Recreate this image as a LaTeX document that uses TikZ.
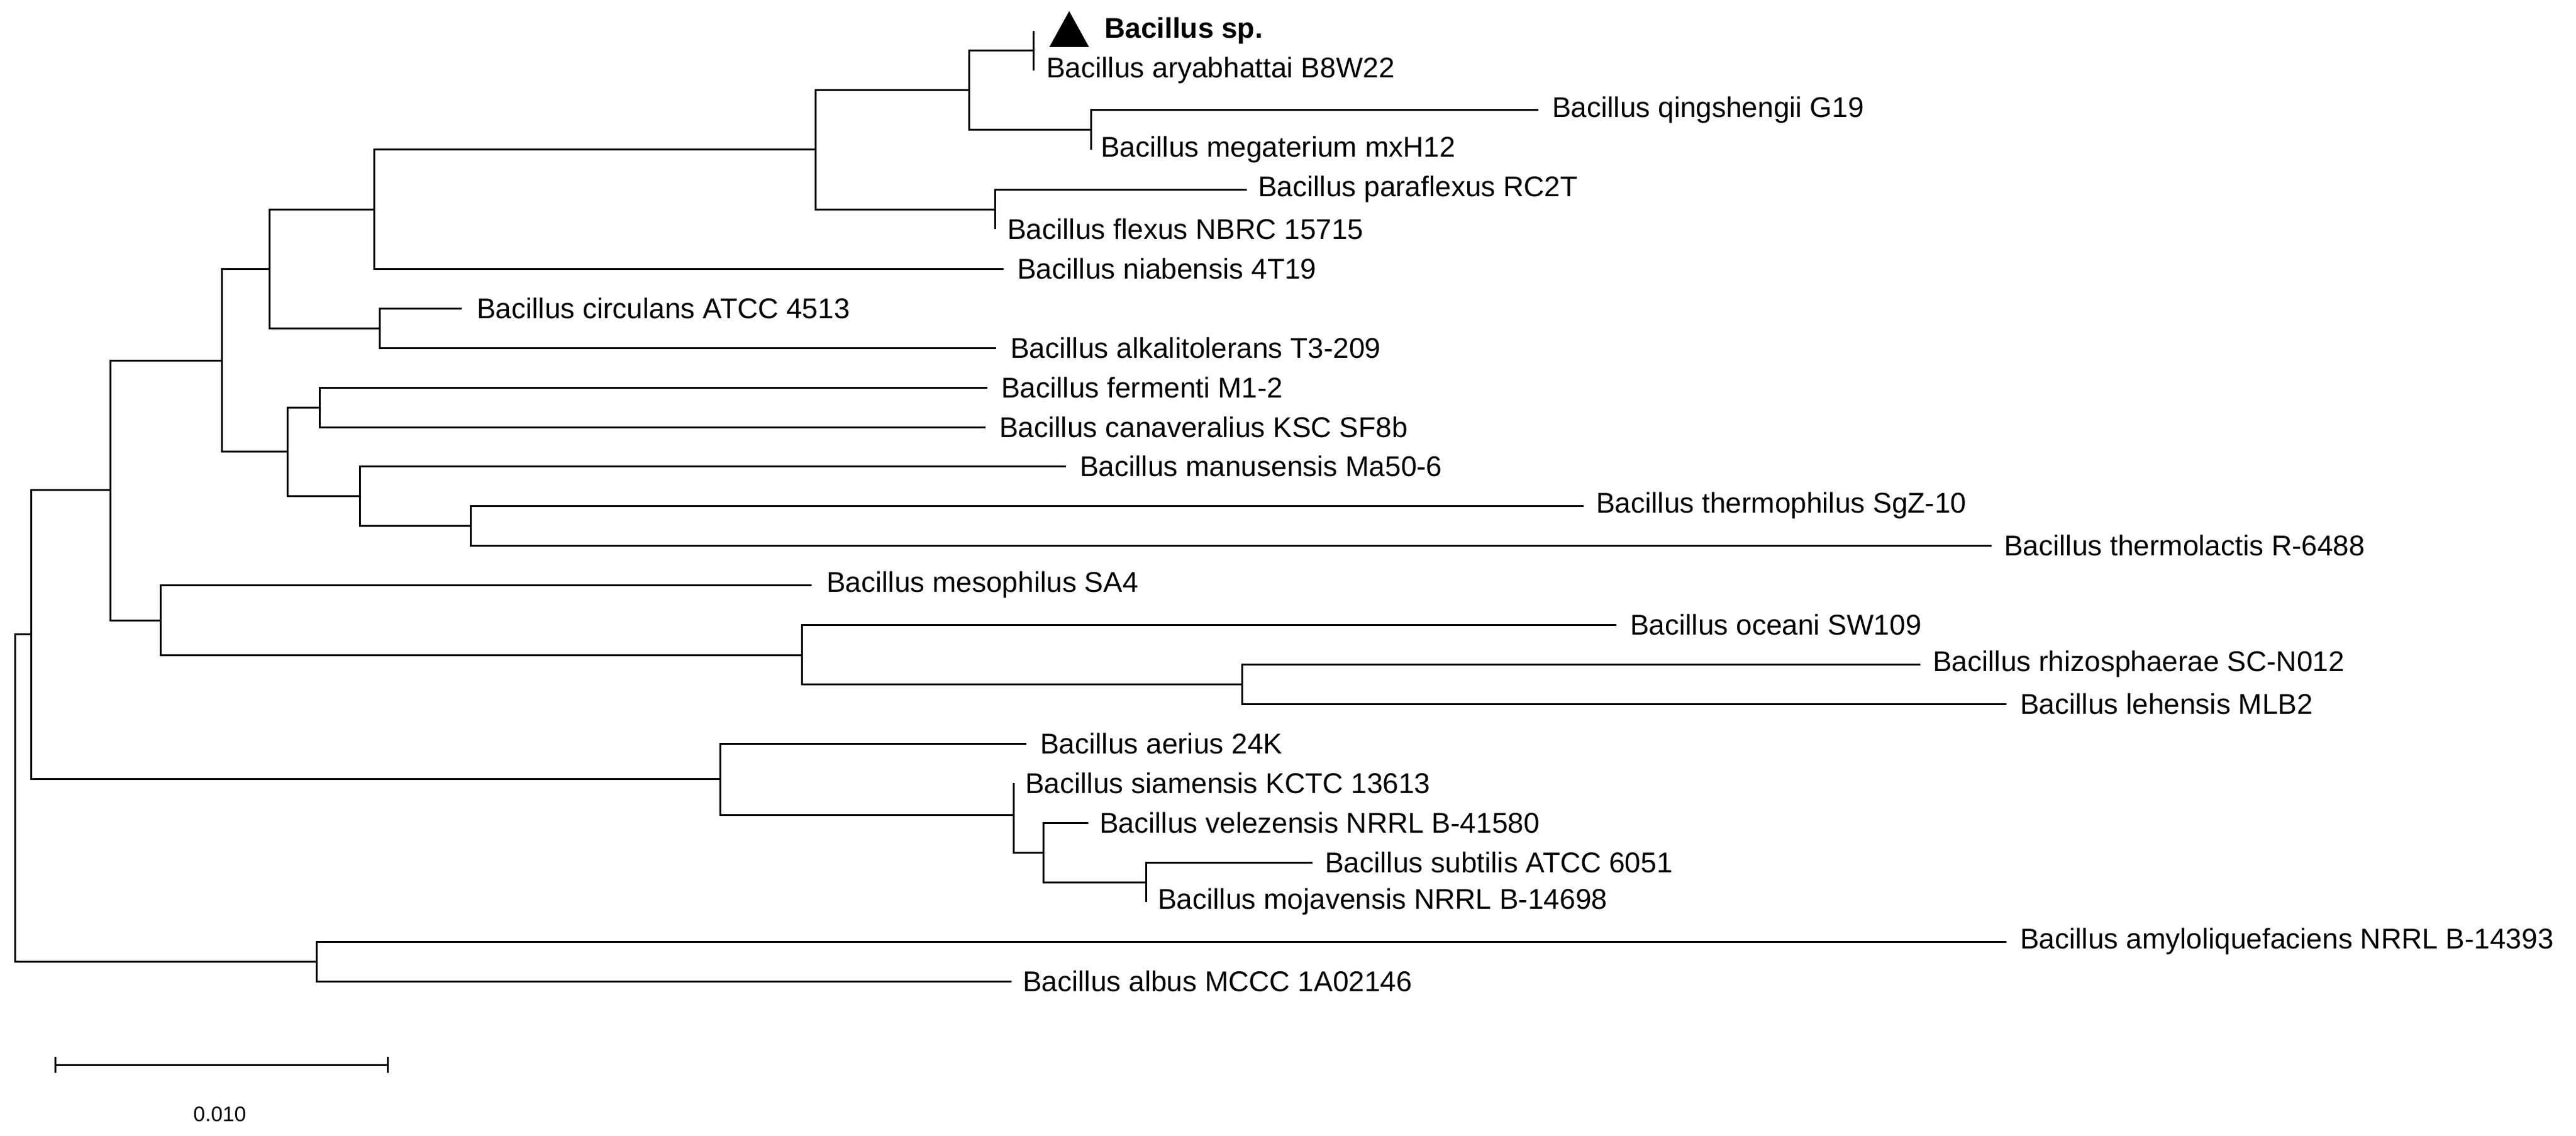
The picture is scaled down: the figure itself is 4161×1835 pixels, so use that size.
\documentclass[tikz,border=0pt]{standalone}
\usepackage{fontspec}
\setmainfont{Liberation Sans}
\begin{document}
\begin{tikzpicture}[x=1pt,y=-1pt,
  br/.style={line width=3pt},
  lab/.style={anchor=west,inner sep=0pt,font=\fontsize{46}{50}\selectfont},
  edge/.style={br,line cap=rect}]
\useasboundingbox (0,0) rectangle (4161,1835);
% internal nodes
\coordinate (root) at (24,1289);
\coordinate (r) at (50,1024);
\coordinate (n) at (178,791);
\coordinate (i) at (358,582);
\coordinate (g) at (435,434);
\coordinate (f) at (604,338);
\coordinate (d) at (1317,242);
\coordinate (b) at (1565,146);
\coordinate (a) at (1669,82);
\coordinate (c) at (1762,210);
\coordinate (e) at (1607,338);
\coordinate (h) at (613,530);
\coordinate (j) at (464,729);
\coordinate (k) at (516,658);
\coordinate (l) at (581,801);
\coordinate (m) at (760,849);
\coordinate (o) at (259,1002);
\coordinate (p) at (1295,1058);
\coordinate (q) at (2006,1105);
\coordinate (s) at (1163,1258);
\coordinate (u) at (1637,1316);
\coordinate (v) at (1685,1377);
\coordinate (w) at (1851,1425);
\coordinate (t) at (511,1553);
% leaf tips
\coordinate (tsp) at (1669,50);
\coordinate (tary) at (1669,114);
\coordinate (tqin) at (2485,178);
\coordinate (tmeg) at (1762,242);
\coordinate (tpar) at (2014,306);
\coordinate (tfle) at (1607,370);
\coordinate (tnia) at (1621,434);
\coordinate (tcir) at (746,498);
\coordinate (talk) at (1609,562);
\coordinate (tfer) at (1595,626);
\coordinate (tcan) at (1592,690);
\coordinate (tman) at (1722,753);
\coordinate (tthp) at (2558,817);
\coordinate (tthl) at (3217,881);
\coordinate (tmes) at (1311,945);
\coordinate (toce) at (2611,1009);
\coordinate (trhi) at (3102,1073);
\coordinate (tleh) at (3241,1137);
\coordinate (taer) at (1658,1201);
\coordinate (tsia) at (1637,1265);
\coordinate (tvel) at (1758,1329);
\coordinate (tsub) at (2120,1393);
\coordinate (tmoj) at (1851,1457);
\coordinate (tamy) at (3241,1521);
\coordinate (talb) at (1634,1585);
% labels
\fill (1695,76) -- (1759,76) -- (1727,18) -- cycle;
\node[lab,font=\fontsize{46}{50}\selectfont\bfseries] (Lsp) at (1784,50) {Bacillus sp.};
\node[lab] (Lary) at (1690,114) {Bacillus aryabhattai B8W22};
\node[lab] (Lqin) at (2507,178) {Bacillus qingshengii G19};
\node[lab] (Lmeg) at (1778,242) {Bacillus megaterium mxH12};
\node[lab] (Lpar) at (2032,306) {Bacillus paraflexus RC2T};
\node[lab] (Lfle) at (1627,370) {Bacillus flexus NBRC 15715};
\node[lab] (Lnia) at (1643,434) {Bacillus niabensis 4T19};
\node[lab] (Lcir) at (770,498) {Bacillus circulans ATCC 4513};
\node[lab] (Lalk) at (1632,562) {Bacillus alkalitolerans T3-209};
\node[lab] (Lfer) at (1617,626) {Bacillus fermenti M1-2};
\node[lab] (Lcan) at (1614,690) {Bacillus canaveralius KSC SF8b};
\node[lab] (Lman) at (1744,753) {Bacillus manusensis Ma50-6};
\node[lab] (Lthp) at (2578,817) {Bacillus thermophilus SgZ-10};
\node[lab] (Lthl) at (3237,881) {Bacillus thermolactis R-6488};
\node[lab] (Lmes) at (1335,945) {Bacillus mesophilus SA4};
\node[lab] (Loce) at (2633,1009) {Bacillus oceani SW109};
\node[lab] (Lrhi) at (3122,1073) {Bacillus rhizosphaerae SC-N012};
\node[lab] (Lleh) at (3263,1137) {Bacillus lehensis MLB2};
\node[lab] (Laer) at (1680,1201) {Bacillus aerius 24K};
\node[lab] (Lsia) at (1656,1265) {Bacillus siamensis KCTC 13613};
\node[lab] (Lvel) at (1776,1329) {Bacillus velezensis NRRL B-41580};
\node[lab] (Lsub) at (2140,1393) {Bacillus subtilis ATCC 6051};
\node[lab] (Lmoj) at (1870,1457) {Bacillus mojavensis NRRL B-14698};
\node[lab] (Lamy) at (3263,1521) {Bacillus amyloliquefaciens NRRL B-14393};
\node[lab] (Lalb) at (1652,1585) {Bacillus albus MCCC 1A02146};
% branches
\draw[br] (root) |- (r); \draw[br] (root) |- (t);
\draw[br] (r) |- (n); \draw[br] (r) |- (s);
\draw[br] (n) |- (i); \draw[br] (n) |- (o);
\draw[br] (i) |- (g); \draw[br] (i) |- (j);
\draw[br] (g) |- (f); \draw[br] (g) |- (h);
\draw[br] (f) |- (d); \draw[br] (f) |- (tnia);
\draw[br] (d) |- (b); \draw[br] (d) |- (e);
\draw[br] (b) |- (a); \draw[br] (b) |- (c);
\draw[br] (a) -- (tsp); \draw[br] (a) -- (tary);
\draw[br] (c) |- (tqin); \draw[br] (c) |- (tmeg);
\draw[br] (e) |- (tpar); \draw[br] (e) |- (tfle);
\draw[br] (h) |- (tcir); \draw[br] (h) |- (talk);
\draw[br] (j) |- (k); \draw[br] (j) |- (l);
\draw[br] (k) |- (tfer); \draw[br] (k) |- (tcan);
\draw[br] (l) |- (tman); \draw[br] (l) |- (m);
\draw[br] (m) |- (tthp); \draw[br] (m) |- (tthl);
\draw[br] (o) |- (tmes); \draw[br] (o) |- (p);
\draw[br] (p) |- (toce); \draw[br] (p) |- (q);
\draw[br] (q) |- (trhi); \draw[br] (q) |- (tleh);
\draw[br] (s) |- (taer); \draw[br] (s) |- (u);
\draw[br] (u) |- (tsia); \draw[br] (u) |- (v);
\draw[br] (v) |- (tvel); \draw[br] (v) |- (w);
\draw[br] (w) |- (tsub); \draw[br] (w) |- (tmoj);
\draw[br] (t) |- (tamy); \draw[br] (t) |- (talb);
% scale bar
\coordinate (sb1) at (89,1720);
\coordinate (sb2) at (626,1720);
\draw[br] (sb1) -- (sb2);
\draw[br] ([yshift=-13]sb1) -- ([yshift=13]sb1);
\draw[br] ([yshift=-13]sb2) -- ([yshift=13]sb2);
\node[inner sep=0pt,font=\fontsize{34}{40}\selectfont] (sbl) at (355,1800) {0.010};
\end{tikzpicture}
\end{document}
